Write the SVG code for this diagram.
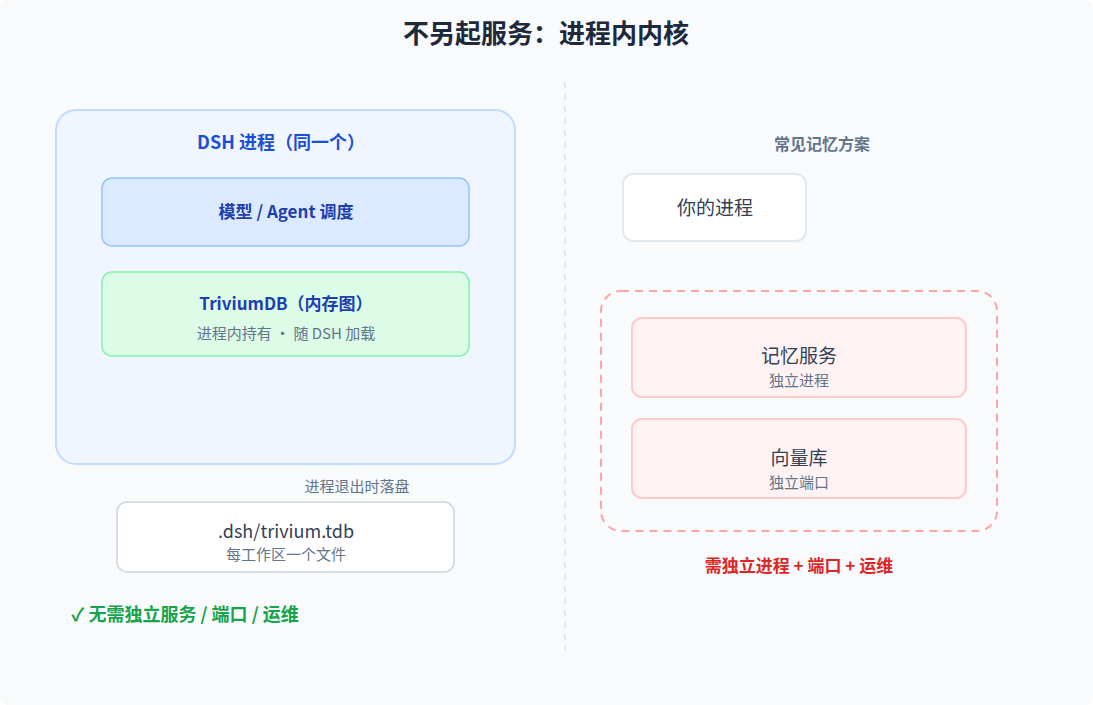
<svg xmlns="http://www.w3.org/2000/svg" width="1093" height="705" viewBox="0 0 1093 705">
<style>
text{font-family:"Noto Sans CJK SC","Noto Sans",sans-serif;text-anchor:middle}
.b{font-weight:bold}
.sub{font-size:15px;fill:#64748b}
.red{fill:#fef2f2;stroke:#fecaca;stroke-width:2}
</style>
<rect x="0" y="0" width="1093" height="705" rx="8" fill="#f8fafc"/>
<text x="546" y="43" class="b" font-size="26" fill="#1e293b">不另起服务：进程内内核</text>
<line x1="565" y1="82" x2="565" y2="650" stroke="#e2e8f0" stroke-width="2" stroke-dasharray="6 6"/>
<g id="dsh">
<rect x="56" y="110" width="459" height="354" rx="20" fill="#eff6ff" stroke="#bfdbfe" stroke-width="2"/>
<text x="281" y="149" class="b" font-size="18" fill="#1d4ed8">DSH 进程（同一个）</text>
</g>
<g id="model">
<rect x="102" y="178" width="367" height="68" rx="10" fill="#dbeafe" stroke="#93c5fd" stroke-width="1.5"/>
<text x="286" y="218" class="b" font-size="17" fill="#1e40af">模型 / Agent 调度</text>
</g>
<g id="trivium">
<rect x="102" y="272" width="367" height="84" rx="10" fill="#dcfce7" stroke="#86efac" stroke-width="1.5"/>
<text x="286" y="310" class="b" font-size="17" fill="#1e40af">TriviumDB（内存图）</text>
<text x="286" y="339" class="sub">进程内持有 · 随 DSH 加载</text>
</g>
<text x="357" y="492" class="sub">进程退出时落盘</text>
<g id="file">
<rect x="117" y="502" width="337" height="70" rx="10" fill="#fff" stroke="#cbd5e1" stroke-width="1.5"/>
<text x="286" y="538" font-size="18" fill="#334155">.dsh/trivium.tdb</text>
<text x="286" y="560" class="sub">每工作区一个文件</text>
</g>
<text x="185" y="621" class="b" font-size="18" fill="#16a34a">✓ 无需独立服务 / 端口 / 运维</text>
<text x="822" y="150" class="b" font-size="16" fill="#64748b">常见记忆方案</text>
<g id="yours">
<rect x="623" y="174" width="183" height="67" rx="10" fill="#fff" stroke="#e2e8f0" stroke-width="2"/>
<text x="715" y="215" font-size="19" fill="#334155">你的进程</text>
</g>
<g id="ext">
<rect x="601" y="291" width="396" height="240" rx="20" fill="none" stroke="#fca5a5" stroke-width="2" stroke-dasharray="8 6"/>
</g>
<g id="mem">
<rect x="632" y="318" width="334" height="79" rx="10" class="red"/>
<text x="799" y="363" font-size="19" fill="#334155">记忆服务</text>
<text x="799" y="386" class="sub">独立进程</text>
</g>
<g id="vec">
<rect x="632" y="419" width="334" height="79" rx="10" class="red"/>
<text x="799" y="465" font-size="19" fill="#334155">向量库</text>
<text x="799" y="488" class="sub">独立端口</text>
</g>
<text x="799" y="572" class="b" font-size="17" fill="#dc2626">需独立进程 + 端口 + 运维</text>
<g id="connectors"></g>
</svg>
